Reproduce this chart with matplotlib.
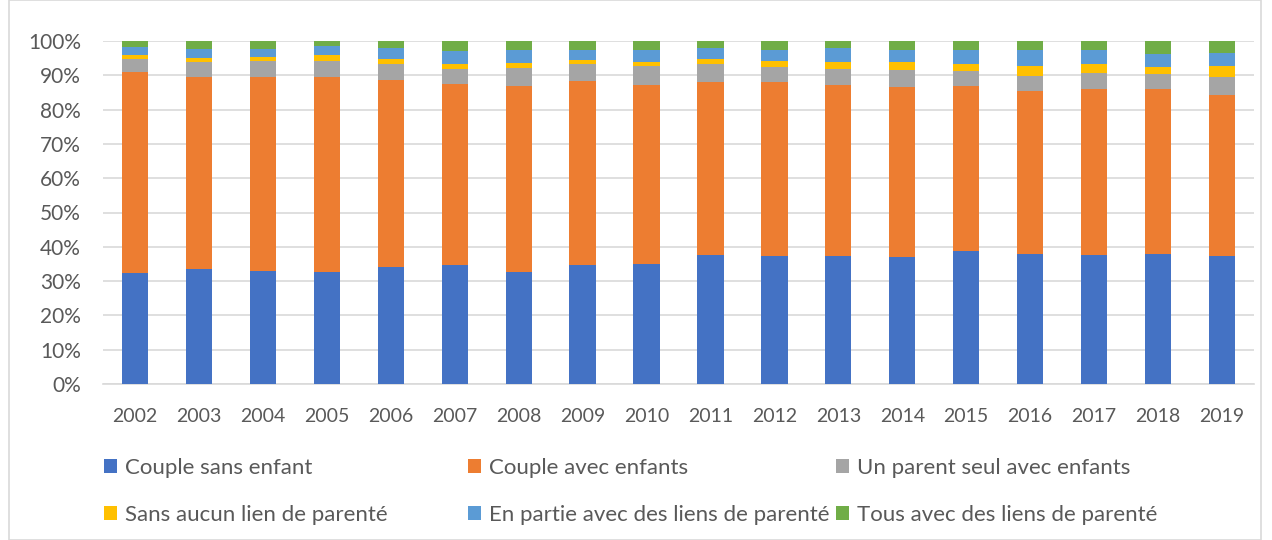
import numpy as np
import matplotlib
matplotlib.use('Agg')
import matplotlib.pyplot as plt
from matplotlib.patches import Rectangle

plt.rcParams['font.family'] = ['Lato', 'DejaVu Sans']

years = [str(y) for y in range(2002, 2020)]

# shares in %, bottom to top
couple_sans = [32.4, 33.6, 33.0, 32.7, 34.2, 34.6, 32.7, 34.6, 35.1,
               37.5, 37.4, 37.4, 37.1, 38.7, 37.8, 37.7, 37.9, 37.4]
couple_avec = [58.6, 56.0, 56.4, 56.7, 54.3, 52.8, 54.1, 53.6, 52.0,
               50.5, 50.6, 49.7, 49.4, 48.3, 47.5, 48.2, 48.0, 46.8]
parent_seul = [3.8, 4.4, 4.9, 4.8, 4.9, 4.4, 5.3, 5.2, 5.5,
               5.2, 4.5, 4.8, 5.1, 4.3, 4.6, 4.8, 4.5, 5.4]
sans_lien = [1.1, 1.1, 1.0, 1.7, 1.4, 1.4, 1.5, 1.2, 1.3,
             1.5, 1.7, 2.1, 2.4, 1.9, 2.9, 2.7, 2.1, 3.2]
en_partie = [2.4, 2.7, 2.5, 2.6, 3.2, 3.8, 3.9, 2.7, 3.4,
             3.2, 3.2, 3.9, 3.5, 4.1, 4.5, 4.0, 3.6, 3.7]
tous_lien = [1.7, 2.2, 2.2, 1.5, 2.0, 3.0, 2.5, 2.7, 2.7,
             2.1, 2.6, 2.1, 2.5, 2.7, 2.7, 2.6, 3.9, 3.5]

labels = ['Couple sans enfant', 'Couple avec enfants', 'Un parent seul avec enfants',
          'Sans aucun lien de parenté', 'En partie avec des liens de parenté',
          'Tous avec des liens de parenté']
colors = ['#4472C4', '#ED7D31', '#A5A5A5', '#FFC000', '#5B9BD5', '#70AD47']
series = [couple_sans, couple_avec, parent_seul, sans_lien, en_partie, tous_lien]

txt = '#595959'

fig = plt.figure(figsize=(12.72, 5.4), dpi=100)
ax = fig.add_axes([103 / 1272, 156 / 540, 1151 / 1272, 343 / 540])

x = np.arange(len(years))
data = np.array(series, dtype=float)
data = data / data.sum(axis=0) * 100
bottom = np.zeros(len(years))
handles = []
for vals, c, lab in zip(data, colors, labels):
    b = ax.bar(x, vals, width=0.41, bottom=bottom, color=c, label=lab, zorder=3)
    handles.append(b)
    bottom += vals

ax.set_xlim(-0.5, len(years) - 0.5)
ax.set_ylim(0, 100)
ax.set_yticks(np.arange(0, 101, 10))
ax.set_yticklabels([f'{v}%' for v in range(0, 101, 10)])
ax.set_xticks(x)
ax.set_xticklabels(years)
ax.grid(axis='y', color='#D9D9D9', linewidth=1.2, zorder=0)
for s in ['top', 'right', 'left']:
    ax.spines[s].set_visible(False)
ax.spines['bottom'].set_color('#D9D9D9')
ax.spines['bottom'].set_linewidth(1.2)
ax.tick_params(axis='both', length=0, colors=txt)
ax.tick_params(axis='x', labelsize=14, pad=17)
ax.tick_params(axis='y', labelsize=15, pad=16)

# legend: three columns placed like the Excel one (row-wise order)
col_x = [104, 468, 836]
for i, cx in enumerate(col_x):
    idx = [i, i + 3]
    leg = fig.legend([handles[j] for j in idx], [labels[j] for j in idx],
                     loc='upper left', bbox_to_anchor=(cx / 1272, 1 - 458 / 540),
                     frameon=False, fontsize=16, labelcolor=txt,
                     handlelength=0.6, handleheight=0.6, handletextpad=0.35,
                     labelspacing=1.2, borderpad=0, borderaxespad=0)

fig.patches.append(Rectangle((9 / 1272, 0), 1252 / 1272, 1, transform=fig.transFigure,
                             fill=False, edgecolor='#D9D9D9', linewidth=1.2))

fig.savefig('out.png', dpi=100)
